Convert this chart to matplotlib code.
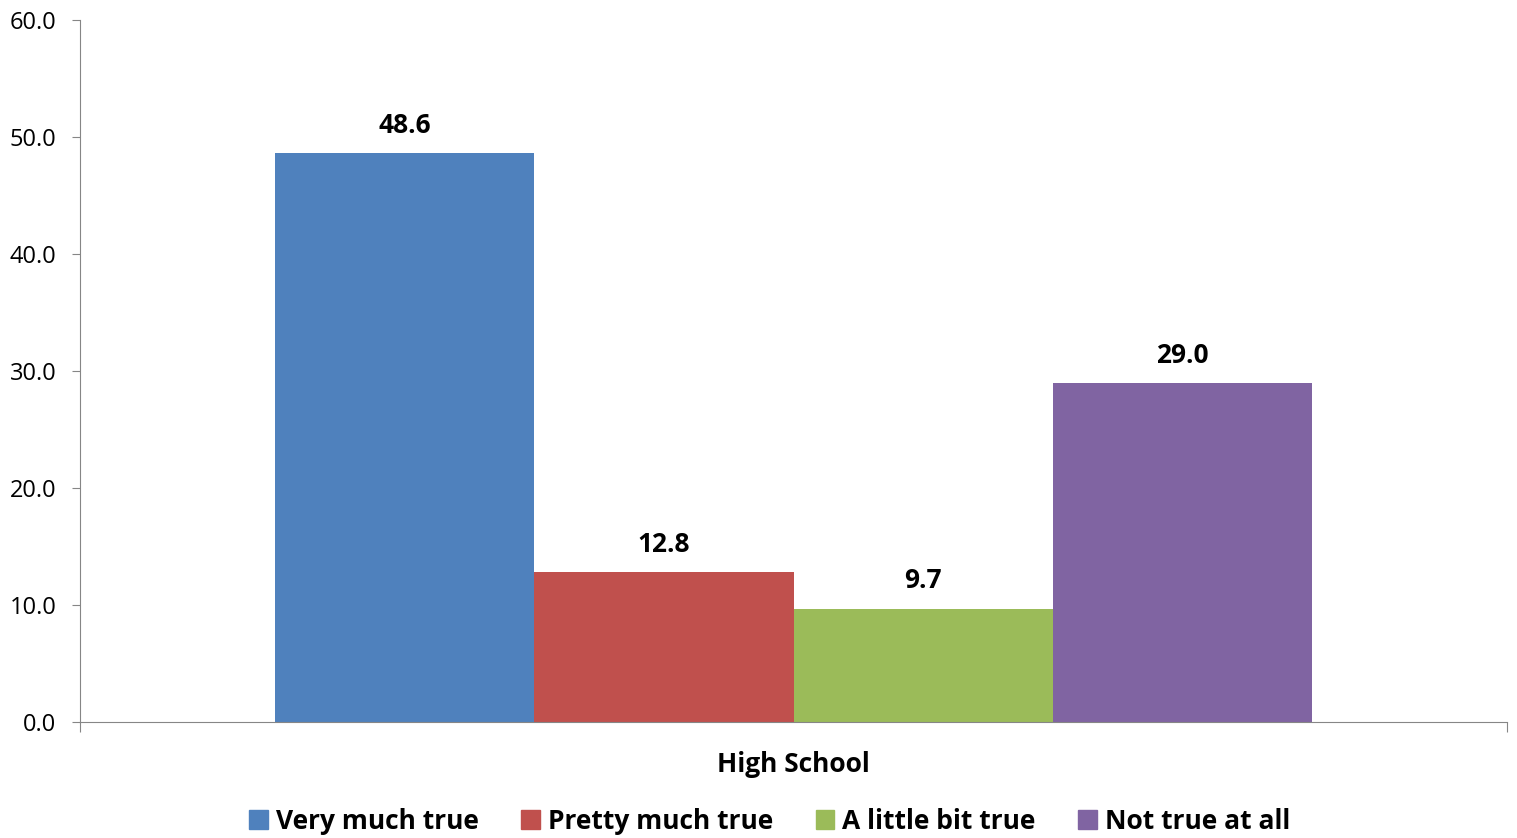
import matplotlib
matplotlib.use("Agg")
import matplotlib.pyplot as plt
from matplotlib.patches import Patch

plt.rcParams['font.family'] = ['Open Sans', 'DejaVu Sans']

category = "High School"
series = ["Very much true", "Pretty much true", "A little bit true", "Not true at all"]
values = [48.6, 12.8, 9.7, 29.0]
colors = ["#4F81BD", "#C0504D", "#9BBB59", "#8064A2"]
yticks = [0, 10, 20, 30, 40, 50, 60]

fig = plt.figure(figsize=(15.17, 8.38), dpi=100)
ax = fig.add_axes([80/1517, 1-722/838, (1507-80)/1517, (722-20)/838])

bw = 0.1817
n = len(values)
for i, (v, c, s) in enumerate(zip(values, colors, series)):
    x = (i - (n-1)/2) * bw
    ax.bar(x, v, width=bw, color=c, label=s)
    ax.text(x, v + 1.2, f"{v:.1f}", ha='center', va='bottom', fontsize=19, fontweight='bold')

ax.set_xlim(-0.5, 0.5)
ax.set_ylim(0, 60)
ax.set_yticks(yticks)
ax.set_yticklabels([f"{t:.1f}" for t in yticks], fontsize=17)
ax.set_xticks([-0.5, 0.5])
ax.set_xticklabels(["", ""])
ax.tick_params(axis='x', length=7, color='#868686', direction='out')
ax.tick_params(axis='y', length=6, color='#868686', direction='out', pad=11)
ax.text(0, -3.6, category, ha='center', va='center', fontsize=19, fontweight='bold', transform=ax.transData)
for sp in ['top', 'right']:
    ax.spines[sp].set_visible(False)
for sp in ['left', 'bottom']:
    ax.spines[sp].set_color('#868686')

handles = [Patch(color=c, label=s) for c, s in zip(colors, series)]
fig.legend(handles=handles, loc='center', bbox_to_anchor=(0.5 + 11/1517, 1-821/838), ncol=4,
           frameon=False, prop={'size': 19, 'weight': 'bold'},
           handlelength=0.7, handleheight=0.7, handletextpad=0.3, columnspacing=1.62)

fig.savefig("out.png", dpi=100)
